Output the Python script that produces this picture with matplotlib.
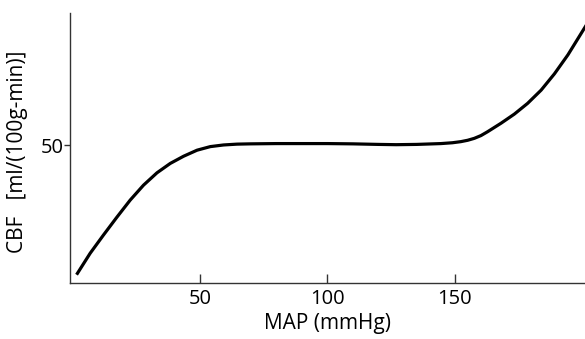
import matplotlib
matplotlib.use("Agg")
import matplotlib.pyplot as plt

# Cerebral autoregulation curve
map_mmhg = [2.0, 7.0, 12.2, 17.4, 22.7, 27.9, 33.2, 38.4, 43.6, 48.9, 54.1,
            59.3, 64.6, 69.8, 80.0, 90.0, 100.0, 110.0, 120.0, 127.0, 135.0,
            144.5, 149.0, 152.3, 155.0, 157.6, 160.2, 162.8, 168.1, 173.3,
            178.5, 183.8, 189.0, 194.3, 199.5, 201.5]
cbf = [3.5, 10.8, 17.4, 23.8, 30.1, 35.5, 40.0, 43.4, 46.0, 48.2, 49.5,
       50.1, 50.4, 50.5, 50.6, 50.6, 50.6, 50.5, 50.3, 50.2, 50.3,
       50.6, 50.9, 51.3, 51.8, 52.5, 53.5, 54.9, 58.0, 61.3,
       65.2, 70.0, 75.9, 82.8, 90.6, 93.6]

x_ticks = [50, 100, 150]
y_ticks = [50]

plt.rcParams['font.family'] = ['Open Sans', 'DejaVu Sans']

fig = plt.figure(figsize=(5.85, 3.39), dpi=100)
ax = fig.add_axes([0.1197, 0.1652, 0.8803, 0.7965])

ax.plot(map_mmhg, cbf, color='black', lw=2.3, solid_joinstyle='round')

ax.set_xlim(-0.9, 201)
ax.set_ylim(0, 98)
ax.set_xticks(x_ticks)
ax.set_yticks(y_ticks)
ax.tick_params(axis='x', direction='in', length=6.5, width=1, color='#333333',
               labelsize=14.5, pad=4)
ax.tick_params(axis='y', direction='out', length=4.3, width=1, color='#333333',
               labelsize=14.5, pad=0.5)

for side in ['top', 'right']:
    ax.spines[side].set_visible(False)
for side in ['left', 'bottom']:
    ax.spines[side].set_color('#333333')
    ax.spines[side].set_linewidth(1)

ax.set_xlabel('MAP (mmHg)', fontsize=15, labelpad=3)
ax.set_ylabel('CBF   [ml/(100g-min)]', fontsize=15)
ax.yaxis.set_label_coords(-0.082, 0.487)

fig.savefig('out.png', dpi=100)
